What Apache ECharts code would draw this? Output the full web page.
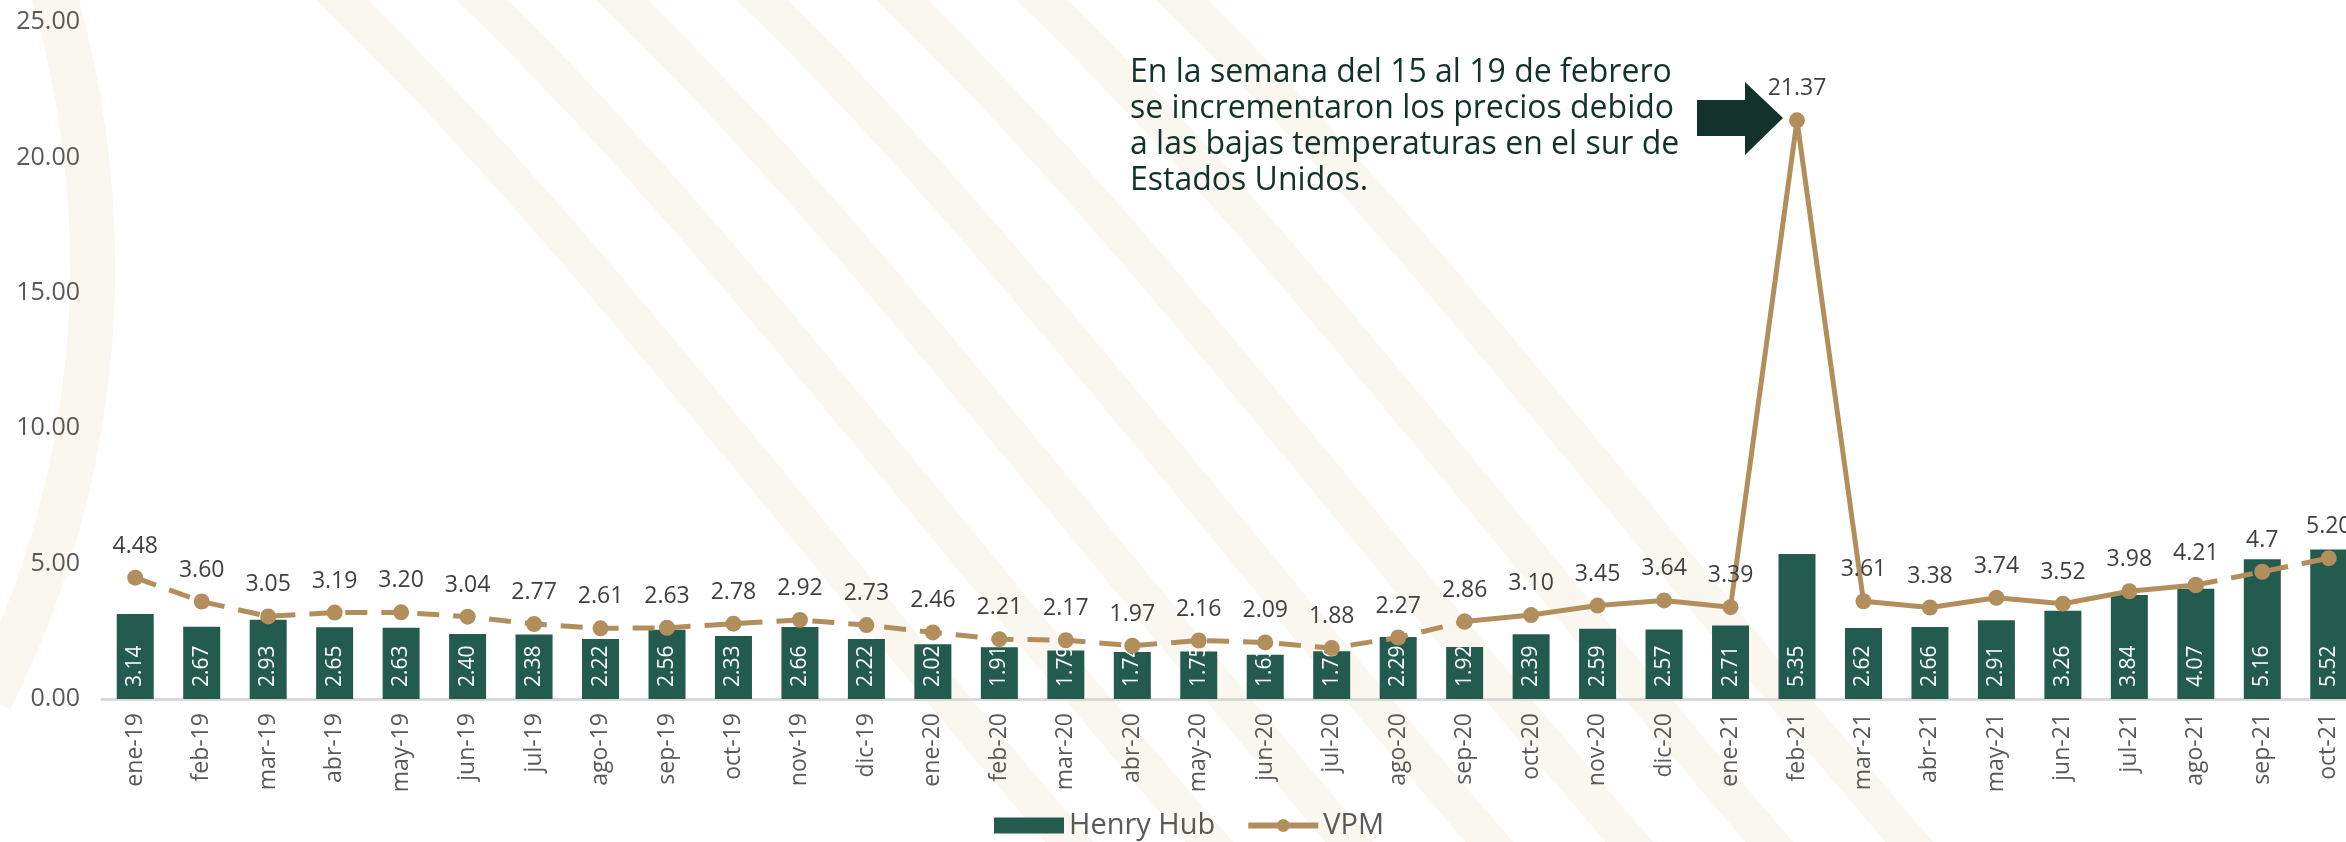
<!DOCTYPE html>
<html>
<head>
<meta charset="utf-8">
<title>Henry Hub vs VPM</title>
<script src="https://cdn.jsdelivr.net/npm/echarts@6/dist/echarts.min.js"></script>
<style>
    html, body { margin: 0; padding: 0; background: #fff; }
    #chart { width: 2346px; height: 842px; }
</style>
</head>
<body>
<div id="chart"></div>
<script>
// meses
var meses = ['ene-19', 'feb-19', 'mar-19', 'abr-19', 'may-19', 'jun-19', 'jul-19', 'ago-19', 'sep-19', 'oct-19', 'nov-19', 'dic-19',
    'ene-20', 'feb-20', 'mar-20', 'abr-20', 'may-20', 'jun-20', 'jul-20', 'ago-20', 'sep-20', 'oct-20', 'nov-20', 'dic-20',
    'ene-21', 'feb-21', 'mar-21', 'abr-21', 'may-21', 'jun-21', 'jul-21', 'ago-21', 'sep-21', 'oct-21'];
// Henry Hub (barras)
var henryHub = [3.14, 2.67, 2.93, 2.65, 2.63, 2.40, 2.38, 2.22, 2.56, 2.33, 2.66, 2.22,
    2.02, 1.91, 1.79, 1.74, 1.75, 1.63, 1.76, 2.29, 1.92, 2.39, 2.59, 2.57,
    2.71, 5.35, 2.62, 2.66, 2.91, 3.26, 3.84, 4.07, 5.16, 5.52];
// VPM (linea)
var vpm = [4.48, 3.60, 3.05, 3.19, 3.20, 3.04, 2.77, 2.61, 2.63, 2.78, 2.92, 2.73,
    2.46, 2.21, 2.17, 1.97, 2.16, 2.09, 1.88, 2.27, 2.86, 3.10, 3.45, 3.64,
    3.39, 21.37, 3.61, 3.38, 3.74, 3.52, 3.98, 4.21, 4.7, 5.20];
var vpmTexto = ['4.48', '3.60', '3.05', '3.19', '3.20', '3.04', '2.77', '2.61', '2.63', '2.78', '2.92', '2.73',
    '2.46', '2.21', '2.17', '1.97', '2.16', '2.09', '1.88', '2.27', '2.86', '3.10', '3.45', '3.64',
    '3.39', '21.37', '3.61', '3.38', '3.74', '3.52', '3.98', '4.21', '4.7', '5.20'];
// tramo continuo de la linea (indices)
var tramoIni = 20, tramoFin = 31;
var yTicks = [0, 5, 10, 15, 20, 25];

var nota = 'En la semana del 15 al 19 de febrero\nse incrementaron los precios debido\na las bajas temperaturas en el sur de\nEstados Unidos.';

var verde = '#235b4e', dorado = '#b38e5d', oscuro = '#13322b', beige = '#faf6f0';
var fuente = '"Open Sans", "Noto Sans", sans-serif';

function datosPunteados() {
    var arr = [];
    for (var i = 0; i < vpm.length; i++) {
        if (i <= tramoIni || i >= tramoFin) {
            arr.push({ value: vpm[i], label: { show: i < tramoIni || i > tramoFin } });
        } else {
            arr.push(null);
        }
    }
    return arr;
}
function datosContinuos() {
    var arr = [];
    for (var i = 0; i < vpm.length; i++) {
        if (i >= tramoIni && i <= tramoFin) {
            arr.push({ value: vpm[i], label: { show: true } });
        } else {
            arr.push(null);
        }
    }
    return arr;
}

// fondo decorativo (franjas beige)
function fondo() {
    var g = [];
    var inicios = [300, 440, 580, 720, 860, 1000, 1140];
    for (var k = 0; k < inicios.length; k++) {
        var s = inicios[k];
        g.push({
            type: 'bezierCurve', silent: true, z: -10,
            shape: { x1: s, y1: -40, cpx1: s + 260, cpy1: 200, cpx2: s + 520, cpy2: 560, x2: s + 820, y2: 900 },
            style: { stroke: beige, lineWidth: 36, fill: null }
        });
    }
    g.push({
        type: 'bezierCurve', silent: true, z: -10,
        shape: { x1: 50, y1: -20, cpx1: 130, cpy1: 250, cpx2: 90, cpy2: 500, x2: -10, y2: 700 },
        style: { stroke: beige, lineWidth: 45, fill: null }
    });
    return g;
}

var myChart = echarts.init(document.getElementById('chart'));
var etiquetaLinea = {
    position: 'top',
    distance: 12,
    color: '#404040',
    fontSize: 23,
    fontFamily: fuente,
    formatter: function (p) { return vpmTexto[p.dataIndex]; }
};
var option = {
    backgroundColor: '#ffffff',
    animation: false,
    grid: {
        left: 102,
        top: 22,
        width: 2260,
        height: 677,
        outerBoundsMode: 'none'
    },
    legend: {
        left: 989,
        top: 806,
        itemWidth: 70,
        itemHeight: 16,
        itemGap: 30,
        textStyle: { color: '#595959', fontSize: 29, fontFamily: fuente },
        lineStyle: { width: 6, type: 'solid' },
        data: [
            { name: 'Henry Hub', icon: 'rect' },
            { name: 'VPM', lineStyle: { width: 6, type: 'solid' } }
        ]
    },
    xAxis: {
        type: 'category',
        data: meses,
        axisLine: { lineStyle: { color: '#d9d9d9', width: 3 } },
        axisTick: { show: false },
        axisLabel: {
            interval: 0,
            rotate: 90,
            margin: 14,
            color: '#595959',
            fontSize: 23,
            fontFamily: fuente
        }
    },
    yAxis: {
        type: 'value',
        min: yTicks[0],
        max: yTicks[yTicks.length - 1],
        interval: 5,
        splitLine: { show: false },
        axisLine: { show: false },
        axisTick: { show: false },
        axisLabel: {
            margin: 22,
            color: '#595959',
            fontSize: 25,
            fontFamily: fuente,
            formatter: function (v) { return v.toFixed(2); }
        }
    },
    series: [{
        name: 'Henry Hub',
        type: 'bar',
        data: henryHub,
        barWidth: 37,
        itemStyle: { color: verde },
        label: {
            show: true,
            position: 'insideBottom',
            rotate: 90,
            align: 'left',
            verticalAlign: 'middle',
            distance: 12,
            color: '#ffffff',
            fontSize: 21,
            fontFamily: fuente,
            formatter: function (p) { return p.value.toFixed(2); }
        },
        z: 2
    }, {
        name: 'VPM',
        type: 'line',
        data: datosContinuos(),
        symbol: 'circle',
        symbolSize: 16,
        lineStyle: { color: dorado, width: 5 },
        itemStyle: { color: dorado },
        label: etiquetaLinea,
        z: 3
    }, {
        name: 'VPM',
        type: 'line',
        data: datosPunteados(),
        symbol: 'circle',
        symbolSize: 16,
        lineStyle: { color: dorado, width: 5, type: [22, 14] },
        itemStyle: { color: dorado },
        label: etiquetaLinea,
        z: 3
    }],
    graphic: fondo().concat([{
        type: 'text',
        left: 1130,
        top: 55,
        style: {
            text: nota,
            fill: oscuro,
            fontSize: 32,
            fontFamily: fuente,
            lineHeight: 36
        }
    }, {
        // flecha de la nota
        type: 'polygon',
        shape: {
            points: [[1697, 100], [1745, 100], [1745, 82], [1783, 118], [1745, 155], [1745, 136], [1697, 136]]
        },
        style: { fill: oscuro }
    }])
};
myChart.setOption(option);
</script>
</body>
</html>
